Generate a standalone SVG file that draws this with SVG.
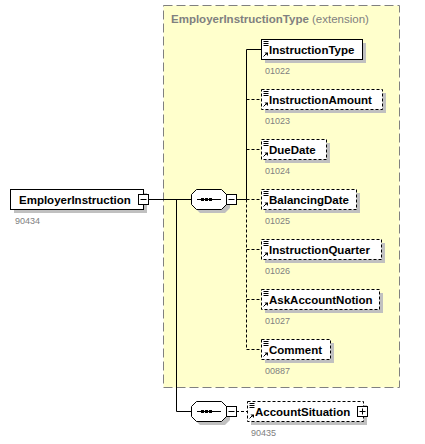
<svg xmlns="http://www.w3.org/2000/svg" width="425" height="444" viewBox="0 0 425 444">
<defs>
<style>
.bg{fill:#ffffff}
.ext{fill:#ffffcc;stroke:#808080;stroke-width:1;stroke-dasharray:9,4}
.ttl{font-family:"Liberation Sans",Arial,sans-serif;font-size:11.5px;font-weight:bold;fill:#808080}
.ttln{font-family:"Liberation Sans",Arial,sans-serif;font-size:11.5px;fill:#808080}
.sh{fill:#c0c0c0}
.box{fill:#ffffff;stroke:#000000;stroke-width:1}
.opt{stroke-dasharray:3,2}
.nm{font-family:"Liberation Sans",Arial,sans-serif;font-size:11.5px;font-weight:bold;fill:#000000}
.id{font-family:"Liberation Sans",Arial,sans-serif;font-size:9px;fill:#808080}
.ln{fill:none;stroke:#000000;stroke-width:1}
.dl{fill:none;stroke:#000000;stroke-width:1;stroke-dasharray:3,2}
.ic{fill:none;stroke:#000000;stroke-width:1}
</style>
<g id="icon">
<path class="ic" d="M2.5,2.5h5M2.5,4.5h5M2.5,6.5h5"/>
<path class="ic" d="M2.5,17.5l3.5,-3.5"/>
<path d="M3.5,13.5h3.5v3.5z" fill="#000"/>
</g>
<g id="comp">
<path class="sh" d="M200,193h25l5,5v10l-5,5h-25l-5,-5v-10z"/>
<path class="box" d="M196.5,189.5h25l5,5v10l-5,5h-25l-5,-5v-10z"/>
<path class="ln" d="M197,199.5h24"/>
<rect x="201" y="198" width="3" height="3" fill="#000"/>
<rect x="205" y="198" width="3" height="3" fill="#000"/>
<rect x="209" y="198" width="3" height="3" fill="#000"/>
<rect class="box" x="226.5" y="194.5" width="10" height="10"/>
<path class="ln" d="M228.5,199.5h6"/>
</g>
</defs>
<rect class="bg" x="0" y="0" width="425" height="444"/>

<g id="extension">
<rect class="ext" x="163.5" y="5.5" width="236" height="382"/>
<text x="171" y="23"><tspan class="ttl">EmployerInstructionType</tspan><tspan class="ttln"> (extension)</tspan></text>
</g>

<g id="connectors">
<path class="ln" d="M148,199.5H191"/>
<path class="ln" d="M176.5,199.5V411.5H191"/>
<path class="ln" d="M236,199.5H246.5"/>
<path class="ln" d="M246.5,199.5V49.5H261"/>
<path class="dl" d="M246.5,199.5V349.5"/>
<path class="dl" d="M246.5,99.5H261M246.5,149.5H261M246.5,199.5H261M246.5,249.5H261M246.5,299.5H261M246.5,349.5H261"/>
<path class="dl" d="M236,411.5H247"/>
</g>

<g id="EmployerInstruction">
<rect class="sh" x="14" y="193" width="133" height="20"/>
<rect class="box" x="10.5" y="189.5" width="133" height="20"/>
<text class="nm" x="19" y="204">EmployerInstruction</text>
<rect class="box" x="138.5" y="194.5" width="10" height="10"/>
<path class="ln" d="M140.5,199.5h6"/>
<text class="id" x="15" y="224">90434</text>
</g>

<g id="sequence1">
<use href="#comp"/>
</g>

<g id="InstructionType">
<rect class="sh" x="265" y="43" width="101" height="20"/>
<rect class="box" x="261.5" y="39.5" width="101" height="20"/>
<use href="#icon" x="261" y="39"/>
<text class="nm" x="269" y="54">InstructionType</text>
<text class="id" x="265" y="74">01022</text>
</g>

<g id="InstructionAmount">
<rect class="sh" x="265" y="93" width="121" height="20"/>
<rect class="box opt" x="261.5" y="89.5" width="121" height="20"/>
<use href="#icon" x="261" y="89"/>
<text class="nm" x="269" y="104">InstructionAmount</text>
<text class="id" x="265" y="124">01023</text>
</g>

<g id="DueDate">
<rect class="sh" x="265" y="143" width="65" height="20"/>
<rect class="box opt" x="261.5" y="139.5" width="65" height="20"/>
<use href="#icon" x="261" y="139"/>
<text class="nm" x="269" y="154">DueDate</text>
<text class="id" x="265" y="174">01024</text>
</g>

<g id="BalancingDate">
<rect class="sh" x="265" y="193" width="95" height="20"/>
<rect class="box opt" x="261.5" y="189.5" width="95" height="20"/>
<use href="#icon" x="261" y="189"/>
<text class="nm" x="269" y="204">BalancingDate</text>
<text class="id" x="265" y="224">01025</text>
</g>

<g id="InstructionQuarter">
<rect class="sh" x="265" y="243" width="120" height="20"/>
<rect class="box opt" x="261.5" y="239.5" width="120" height="20"/>
<use href="#icon" x="261" y="239"/>
<text class="nm" x="269" y="254">InstructionQuarter</text>
<text class="id" x="265" y="274">01026</text>
</g>

<g id="AskAccountNotion">
<rect class="sh" x="265" y="293" width="118" height="20"/>
<rect class="box opt" x="261.5" y="289.5" width="118" height="20"/>
<use href="#icon" x="261" y="289"/>
<text class="nm" x="269" y="304">AskAccountNotion</text>
<text class="id" x="265" y="324">01027</text>
</g>

<g id="Comment">
<rect class="sh" x="265" y="343" width="69" height="20"/>
<rect class="box opt" x="261.5" y="339.5" width="69" height="20"/>
<use href="#icon" x="261" y="339"/>
<text class="nm" x="269" y="354">Comment</text>
<text class="id" x="265" y="374">00887</text>
</g>

<g id="sequence2">
<use href="#comp" y="212"/>
</g>

<g id="AccountSituation">
<rect class="sh" x="251" y="405" width="116" height="20"/>
<rect class="box opt" x="247.5" y="401.5" width="116" height="20"/>
<use href="#icon" x="247" y="401"/>
<text class="nm" x="255" y="416">AccountSituation</text>
<rect class="box" x="357.5" y="406.5" width="10" height="10"/>
<path class="ln" d="M359.5,411.5h6M362.5,408.5v6"/>
<text class="id" x="251" y="436">90435</text>
</g>
</svg>
